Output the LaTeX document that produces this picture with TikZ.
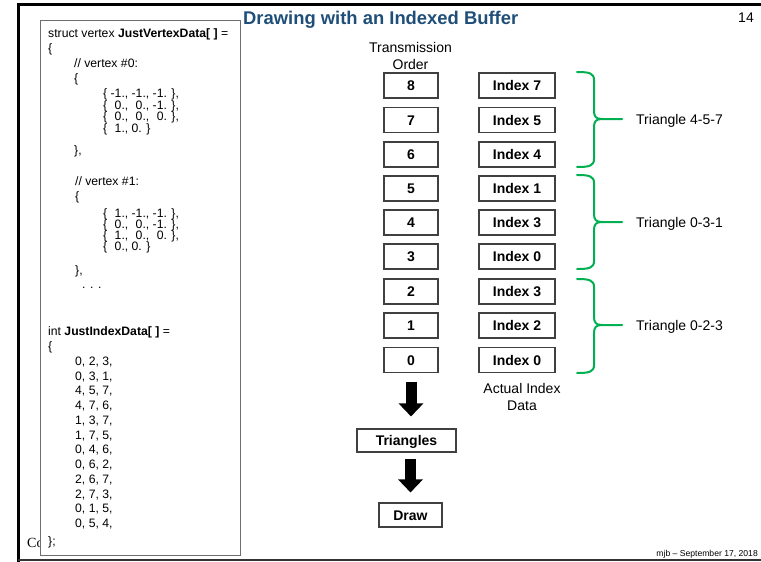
\documentclass[tikz,border=0pt]{standalone}
\usepackage{fontspec}
\setmainfont{Liberation Sans}
\newfontfamily\serifC{Liberation Serif}
\usetikzlibrary{arrows.meta}
\definecolor{titleblue}{RGB}{31,78,121}
\definecolor{bracegreen}{RGB}{0,176,80}
\definecolor{boxgray}{RGB}{64,64,64}
\definecolor{codegray}{RGB}{110,110,110}
\newcommand{\mn}{\phantom{-}}
\begin{document}
\begin{tikzpicture}[x=1pt,y=-1pt,
  numbox/.style={draw=boxgray, line width=1.1pt, minimum width=54pt, minimum height=25pt,
    inner sep=0pt, font=\fontsize{14}{16}\selectfont\bfseries, text height=10pt, text depth=0pt},
  idxbox/.style={numbox, minimum width=76pt},
  lbl/.style={inner sep=0pt, font=\fontsize{14}{17}\selectfont},
  codeline/.style={inner sep=0pt, anchor=base west, font=\fontsize{12.2}{14.75}\selectfont},
  gbrace/.style={draw=bracegreen, line width=2pt, line cap=round, line join=round},
  bigarrow/.style={line width=11pt, -{Triangle[width=24pt,length=13pt]}},
  framestroke/.style={line width=3pt}
]
\useasboundingbox (0,0) rectangle (761,562);

% slide frame
\draw[framestroke] (761,4.7) -- (18.3,4.7) -- (18.3,562);
\draw[line width=2.6pt, black!80] (18.3,560) -- (761,560);

% partially hidden footer letter
\node[inner sep=0pt, anchor=base west, font=\serifC\fontsize{14}{16}\selectfont] (cfoot) at (27,547) {Co};

% code box
\node[draw=codegray, line width=1pt, fill=white, minimum width=199.5pt, minimum height=535pt,
  inner sep=0pt, anchor=north west] (codebox) at (40,20) {};

% code lines: x / visual centre y / text
\foreach \cx/\cy/\ct [count=\ci] in {
  48/33/{struct vertex \textbf{JustVertexData[ ]} =},
  48/48/{\{},
  74/63/{// vertex \#0:},
  74/78/{\{},
  103/93.3/{\{ -1., -1., -1. \},},
  103/104.8/{\{ \mn0., \mn0., -1. \},},
  103/116.2/{\{ \mn0., \mn0., \mn0. \},},
  103/127.6/{\{ \mn1., 0. \}},
  74/150/{\},},
  75/180.7/{// vertex \#1:},
  75/196.5/{\{},
  103/213.3/{\{ \mn1., -1., -1. \},},
  103/224.1/{\{ \mn0., \mn0., -1. \},},
  103/235/{\{ \mn1., \mn0., \mn0. \},},
  103/245.8/{\{ \mn0., 0. \}},
  75/269.8/{\},},
  82/283.6/{. . .},
  48/331/{int \textbf{JustIndexData[ ]} =},
  48/346.5/{\{},
  75/361/{0, 2, 3,},
  75/375.7/{0, 3, 1,},
  75/390.5/{4, 5, 7,},
  75/405.2/{4, 7, 6,},
  75/419.9/{1, 3, 7,},
  75/434.7/{1, 7, 5,},
  75/449.4/{0, 4, 6,},
  75/464.1/{0, 6, 2,},
  75/478.8/{2, 6, 7,},
  75/493.6/{2, 7, 3,},
  75/508.3/{0, 1, 5,},
  75/523/{0, 5, 4,},
  48/541/{\};}
} {
  \node[codeline] (cl\ci) at (\cx,\cy+4.4) {\ct};
}

% title and page number
\node[inner sep=0pt, anchor=base west, text=titleblue, font=\fontsize{18.4}{20}\selectfont\bfseries] (title) at (243,24.6) {Drawing with an Indexed Buffer};
\node[inner sep=0pt, anchor=base, font=\fontsize{14}{16}\selectfont] (pagenum) at (746,23) {14};

% column headings
\node[lbl, align=center] (trans) at (410.5,55.5) {Transmission\\Order};

% boxes
\foreach \n/\y/\lab in {8/85.5/7, 7/120/5, 6/154.5/4, 5/188.5/1, 4/222.5/3, 3/256.5/0, 2/291.5/3, 1/325.5/2, 0/360/0} {
  \node[numbox] (t\n) at (411,\y) {\n};
  \node[idxbox] (i\n) at (517,\y) {Index \lab};
}

\node[lbl, align=center] (actual) at (522,396.5) {Actual Index\\Data};

% braces
\foreach \tp/\md/\bt/\name/\txt in {72/119/167/ga/Triangle 4-5-7, 175/222/269/gb/Triangle 0-3-1, 279/325/373/gc/Triangle 0-2-3} {
  \draw[gbrace] (577,\tp) .. controls (589,\tp) and (594,\tp+1) .. (594,\tp+8)
     -- (594,\md-9) .. controls (594,\md-2) and (596,\md) .. (602,\md) -- (622,\md);
  \draw[gbrace] (602,\md) .. controls (596,\md) and (594,\md+2) .. (594,\md+9)
     -- (594,\bt-8) .. controls (594,\bt-1) and (589,\bt) .. (577,\bt);
  \node[lbl, anchor=base west] (\name) at (636,\md+5) {\txt};
}

% triangles and draw boxes
\node[numbox, minimum width=99pt, minimum height=23pt] (tri) at (406.5,440.5) {Triangles};
\node[numbox, minimum width=63pt, minimum height=24pt] (drw) at (410.5,515) {Draw};

% block arrows
\draw[bigarrow, shorten <=8.5pt, shorten >=12pt] (t0.south) -- (t0.south |- tri.north);
\draw[bigarrow, shorten <=6pt, shorten >=10pt] (tri.south -| drw.north) -- (drw.north);

% footer
\node[inner sep=0pt, anchor=base east, font=\fontsize{8.6}{10}\selectfont] (footer) at (758,556.4) {mjb -- September 17, 2018};
\end{tikzpicture}
\end{document}
